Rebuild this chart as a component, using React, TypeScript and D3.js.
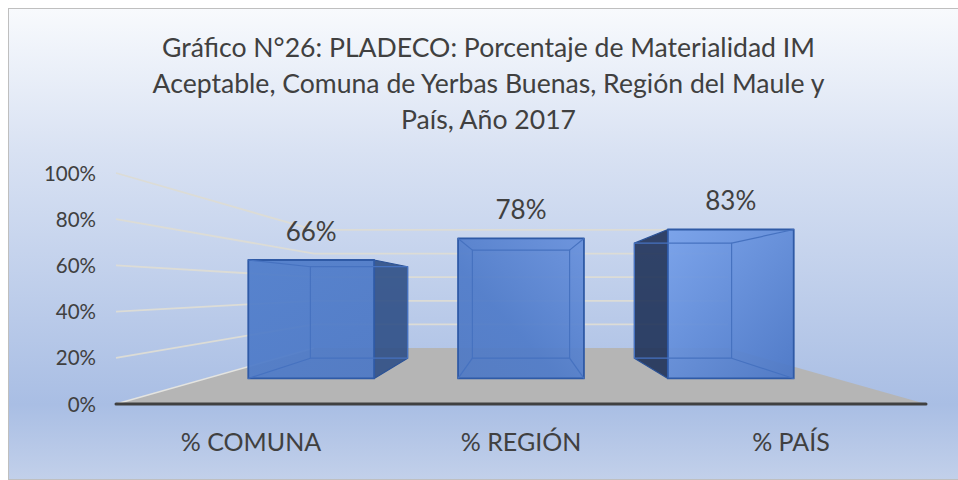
import React from 'react';
import * as d3 from 'd3';

const categories = ['% COMUNA', '% REGIÓN', '% PAÍS'];
const values = [0.66, 0.78, 0.83];
const valueTicks = [0, 0.2, 0.4, 0.6, 0.8, 1];
const titleLines = [
  'Gráfico N°26: PLADECO: Porcentaje de Materialidad IM',
  'Aceptable, Comuna de Yerbas Buenas, Región del Maule y',
  'País, Año 2017',
];

const width = 958;
const height = 480;
const FONT = 'Lato, "Open Sans", sans-serif';
const TEXT = '#404040';

// 3D box: plot coords u (0..1 across), v (0..1 up), s = perspective scale of the depth plane
const frontLeft = 116;
const frontRight = 926;
const floorY = 404;
const wallTop = 173;
const vanishY = 289.5;
const centerX = (frontLeft + frontRight) / 2;
const sFront = 1;
const sBarFront = 0.777;
const sBarBack = 0.6;
const sBack = 0.511;

const uScale = d3.scaleLinear().domain([0, 1]).range([frontLeft - centerX, frontRight - centerX]);
const vScale = d3.scaleLinear().domain([0, 1]).range([floorY - vanishY, wallTop - vanishY]);
const band = d3.scaleBand<string>().domain(categories).range([0, 1]).paddingInner(0.4).paddingOuter(0.2);

const project = (u: number, v: number, s: number): [number, number] => [
  centerX + uScale(u) * s,
  vanishY + vScale(v) * s,
];
const poly = d3.line().curve(d3.curveLinearClosed);
const seg = d3.line();

const barFills = ['url(#bar0)', 'url(#bar1)', 'url(#bar2)'];
const sideFills = ['#2f4f86', '', '#1f3259'];

export default function App() {
  const yLabel = d3.format('.0%');

  return (
    <svg
      width={width}
      height={height}
      viewBox={`0 0 ${width} ${height}`}
      style={{ position: 'absolute', left: 0, top: 0, display: 'block' }}
    >
      <defs>
        <linearGradient id="bg" x1="0" y1="0" x2="0" y2="1">
          <stop offset="0" stopColor="#f8fafd" />
          <stop offset="0.3" stopColor="#d9e2f3" />
          <stop offset="0.84" stopColor="#a9bee4" />
          <stop offset="1" stopColor="#c2d0ea" />
        </linearGradient>
        <linearGradient id="bar0" x1="0" y1="0" x2="1" y2="1">
          <stop offset="0" stopColor="#4f7dcb" />
          <stop offset="1" stopColor="#4d78c5" />
        </linearGradient>
        <linearGradient id="bar1" x1="1" y1="0" x2="0" y2="1">
          <stop offset="0" stopColor="#6790dc" />
          <stop offset="0.6" stopColor="#4f7bc9" />
          <stop offset="1" stopColor="#4f79c4" />
        </linearGradient>
        <linearGradient id="bar2" x1="0" y1="0" x2="1" y2="1">
          <stop offset="0" stopColor="#76a0ea" />
          <stop offset="1" stopColor="#4a76c6" />
        </linearGradient>
      </defs>

      <rect x={8.5} y={8.5} width={width} height={height - 9} fill="url(#bg)" stroke="#bfbfbf" strokeWidth={1} />

      {titleLines.map((line, i) => (
        <text
          key={line}
          x={488.5}
          y={57 + i * 36}
          textAnchor="middle"
          fontFamily={FONT}
          fontSize={26.6}
          fill={TEXT}
        >
          {line}
        </text>
      ))}

      {/* floor */}
      <path
        d={poly([project(0, 0, sFront), project(1, 0, sFront), project(1, 0, sBack), project(0, 0, sBack)])!}
        fill="#b5b5b5"
      />

      {/* walls grid */}
      {valueTicks.slice(1).map((t) => (
        <path
          key={t}
          d={seg([project(0, t, sFront), project(0, t, sBack), project(1, t, sBack)])!}
          fill="none"
          stroke="#dcdcd6"
          strokeWidth={1.8}
        />
      ))}
      <path d={seg([project(0, 0, sFront), project(0, 0, sBack)])!} stroke="#e4e4e0" strokeWidth={1.5} fill="none" />

      {/* bars */}
      {categories.map((c, i) => {
        const u0 = band(c)!;
        const u1 = u0 + band.bandwidth();
        const v = values[i];
        // corner order: front face, back face
        const fbl = project(u0, 0, sBarFront);
        const fbr = project(u1, 0, sBarFront);
        const ftl = project(u0, v, sBarFront);
        const ftr = project(u1, v, sBarFront);
        const bbl = project(u0, 0, sBarBack);
        const bbr = project(u1, 0, sBarBack);
        const btl = project(u0, v, sBarBack);
        const btr = project(u1, v, sBarBack);
        const side = i === 0 ? [ftr, btr, bbr, fbr] : i === 2 ? [ftl, btl, bbl, fbl] : null;
        const inner = '#4672c0';
        return (
          <g key={c}>
            {side && (
              <path
                d={poly(side as [number, number][])!}
                fill={sideFills[i]}
                fillOpacity={0.9}
                stroke="#2b5296"
                strokeWidth={1.2}
                strokeLinejoin="round"
              />
            )}
            <path
              d={poly([ftl, ftr, fbr, fbl])!}
              fill={barFills[i]}
              fillOpacity={0.93}
              stroke="#2f5aa6"
              strokeWidth={1.8}
              strokeLinejoin="round"
            />
            {/* edges of the box seen through the front */}
            <path
              d={poly([btl, btr, bbr, bbl])!}
              fill="none"
              stroke={inner}
              strokeWidth={1.2}
            />
            {i !== 0 && <path d={seg([ftr, btr])!} stroke={inner} strokeWidth={1.2} fill="none" />}
            {i !== 2 && <path d={seg([ftl, btl])!} stroke={inner} strokeWidth={1.2} fill="none" />}
            {i !== 0 && <path d={seg([fbr, bbr])!} stroke={inner} strokeWidth={1.2} fill="none" />}
            {i !== 2 && <path d={seg([fbl, bbl])!} stroke={inner} strokeWidth={1.2} fill="none" />}
            <text
              x={project(u0 + band.bandwidth() / 2, v, sBarFront)[0]}
              y={ftl[1] - 19.5}
              textAnchor="middle"
              fontFamily={FONT}
              fontSize={26}
              fill={TEXT}
            >
              {yLabel(v)}
            </text>
            <text
              x={project(u0 + band.bandwidth() / 2, 0, sFront)[0]}
              y={451}
              textAnchor="middle"
              fontFamily={FONT}
              fontSize={25}
              fill={TEXT}
            >
              {c}
            </text>
          </g>
        );
      })}

      {/* axis */}
      <path d={seg([project(0, 0, sFront), project(1, 0, sFront)])!} stroke="#404040" strokeWidth={3} strokeLinecap="round" />
      {valueTicks.map((t) => (
        <text
          key={t}
          x={96}
          y={project(0, t, sFront)[1] + 7.5}
          textAnchor="end"
          fontFamily={FONT}
          fontSize={20.5}
          fill={TEXT}
        >
          {yLabel(t)}
        </text>
      ))}
    </svg>
  );
}
